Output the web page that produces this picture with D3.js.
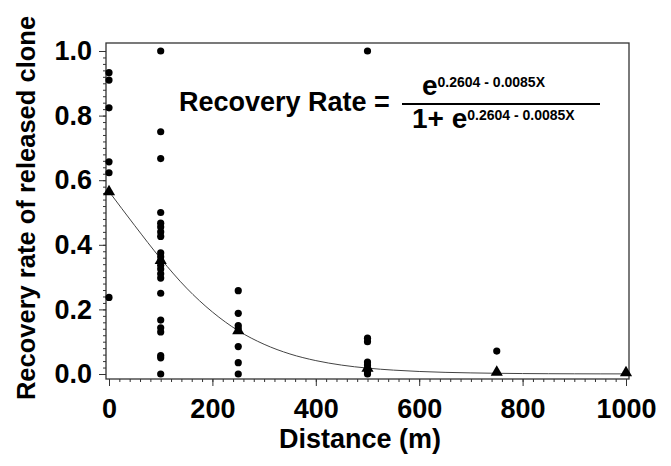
<!DOCTYPE html>
<html>
<head>
<meta charset="utf-8">
<script src="https://cdn.jsdelivr.net/npm/d3@7"></script>
<style>
  html, body { margin: 0; padding: 0; background: #fff; }
  svg { display: block; }
  text { font-family: "Liberation Sans", Arial, sans-serif; font-weight: bold; fill: #000; }
</style>
</head>
<body>
<svg id="chart" width="671" height="466"></svg>
<script>
// ---- data ----
const dots0    = [0.933, 0.91, 0.824, 0.657, 0.623, 0.237];
const dots100  = [1.0, 0.75, 0.667, 0.5, 0.467, 0.455, 0.44, 0.426, 0.375, 0.363, 0.35, 0.337, 0.325, 0.31, 0.297, 0.25, 0.167, 0.143, 0.13, 0.057, 0.05, 0.0];
const dots250  = [0.258, 0.188, 0.15, 0.141, 0.085, 0.035, 0.0];
const dots500  = [1.0, 0.111, 0.1, 0.037, 0.028, 0.017, 0.006, 0.0];
const dots750  = [0.071];
const dots1000 = [];
const distances = [0, 100, 250, 500, 750, 1000];
const meanRates = [0.561, 0.348, 0.131, 0.015, 0.002, 0.001];
const curveX = [0, 50, 100, 150, 200, 250, 300, 350, 400, 450, 500, 550, 600, 650, 700, 750, 800, 850, 900, 950, 1000];
const curveY = [0.565, 0.459, 0.357, 0.266, 0.192, 0.134, 0.092, 0.062, 0.0415, 0.0275, 0.0182, 0.012, 0.0078, 0.0051, 0.0034, 0.0022, 0.0014, 0.0009, 0.0006, 0.0004, 0.0003];
const xTicks = [0, 200, 400, 600, 800, 1000];
const yTicks = [0, 0.2, 0.4, 0.6, 0.8, 1.0];
const xTitle = "Distance (m)";
const yTitle = "Recovery rate of released clone";
const eqLeft = "Recovery Rate =";
const eqExponent = "0.2604 - 0.0085X";

// ---- drawing ----
const svg = d3.select("#chart");
const x = d3.scaleLinear().domain([0, 1000]).range([109, 626]);
const y = d3.scaleLinear().domain([0, 1]).range([374, 51]);
const frame = { l: 106, r: 629, t: 43, b: 379 };
const labelStyle = g => g.selectAll("text").style("font-size", "27px").attr("fill", "#000")
  .style("font-family", "'Liberation Sans', Arial, sans-serif").style("font-weight", "bold");

// frame
svg.append("rect")
  .attr("x", frame.l).attr("y", frame.t)
  .attr("width", frame.r - frame.l).attr("height", frame.b - frame.t)
  .attr("fill", "none").attr("stroke", "#333").attr("stroke-width", 1.3);

// x axis
const gx = svg.append("g").attr("transform", `translate(0,${frame.b})`);
gx.call(d3.axisBottom(x).tickValues(d3.range(0, 1001, 20)).tickSize(3).tickFormat(""))
  .call(g => g.select(".domain").remove());
gx.append("g").call(d3.axisBottom(x).tickValues(xTicks).tickSize(7).tickPadding(13).tickFormat(d3.format("d")))
  .call(g => g.select(".domain").remove())
  .call(labelStyle);
gx.selectAll("line").attr("stroke", "#333");

// y axis
const gy = svg.append("g").attr("transform", `translate(${frame.l},0)`);
gy.call(d3.axisLeft(y).tickValues(d3.range(0, 51).map(i => i / 50)).tickSize(3).tickFormat(""))
  .call(g => g.select(".domain").remove());
gy.append("g").call(d3.axisLeft(y).tickValues(yTicks).tickSize(7).tickPadding(7).tickFormat(d3.format(".1f")))
  .call(g => g.select(".domain").remove())
  .call(labelStyle);
gy.selectAll("line").attr("stroke", "#333");

// fitted curve
const line = d3.line().x(d => x(d[0])).y(d => y(d[1])).curve(d3.curveMonotoneX);
svg.append("path")
  .datum(curveX.map((v, i) => [v, curveY[i]]))
  .attr("d", line).attr("fill", "none").attr("stroke", "#444").attr("stroke-width", 1);

// dots
const groups = [dots0, dots100, dots250, dots500, dots750, dots1000];
const pts = [];
groups.forEach((arr, i) => arr.forEach(v => pts.push([distances[i], v])));
svg.append("g").selectAll("circle").data(pts).join("circle")
  .attr("cx", d => x(d[0])).attr("cy", d => y(d[1])).attr("r", 3.6).attr("fill", "#000");

// triangles
const tri = d3.symbol().type(d3.symbolTriangle).size(64);
svg.append("g").selectAll("path").data(distances.map((d, i) => [d, meanRates[i]])).join("path")
  .attr("d", tri).attr("transform", d => `translate(${x(d[0])},${y(d[1]) - 1})`).attr("fill", "#000");

// titles
svg.append("text").attr("x", 360).attr("y", 448).attr("text-anchor", "middle")
  .style("font-size", "27px").text(xTitle);
svg.append("text").attr("transform", "translate(35,208) rotate(-90)").attr("text-anchor", "middle")
  .style("font-size", "25.5px").text(yTitle);

// equation
svg.append("text").attr("x", 179).attr("y", 111).style("font-size", "27px").text(eqLeft);
svg.append("line").attr("x1", 402).attr("x2", 600).attr("y1", 104).attr("y2", 104)
  .attr("stroke", "#000").attr("stroke-width", 2);
const num = svg.append("text").attr("x", 422).attr("y", 95).style("font-size", "28px");
num.append("tspan").text("e");
num.append("tspan").attr("dy", -8).style("font-size", "14px").text(eqExponent);
const den = svg.append("text").attr("x", 412).attr("y", 128).style("font-size", "28px");
den.append("tspan").text("1+ e");
den.append("tspan").attr("dy", -8).style("font-size", "14px").text(eqExponent);
</script>
</body>
</html>
